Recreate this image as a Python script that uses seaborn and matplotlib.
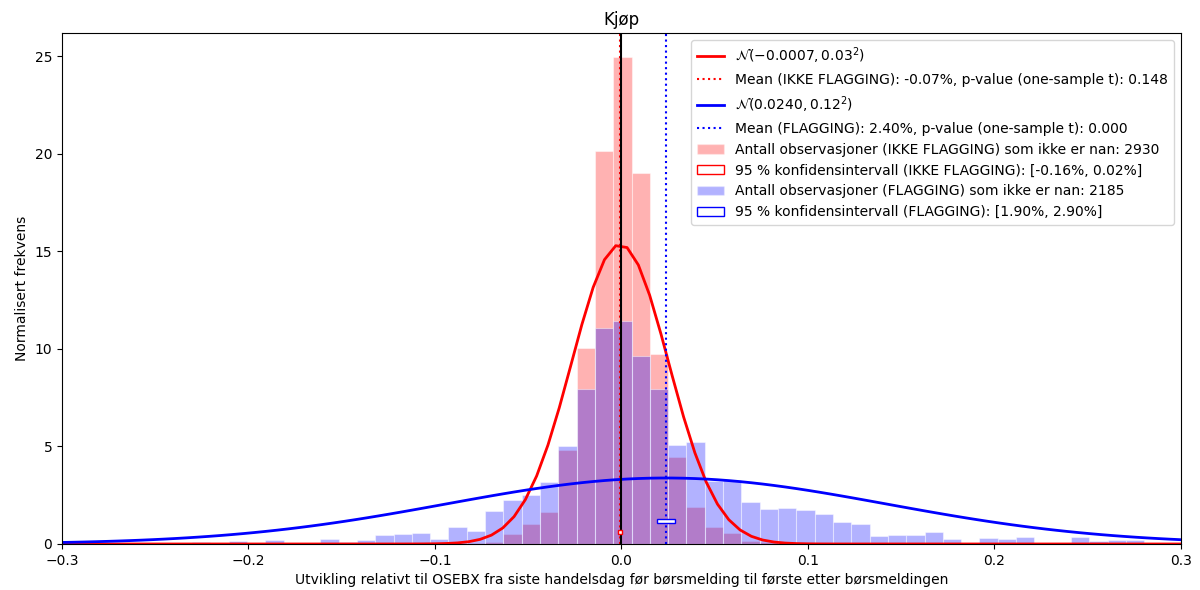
import numpy as np
import pandas as pd
import matplotlib
matplotlib.use("Agg")
import matplotlib.pyplot as plt
import seaborn as sns
from matplotlib.lines import Line2D
from matplotlib.patches import Patch, Rectangle

# ---------------- data ----------------
# common histogram bins (bin k = -31 .. 30)
bin_start = -0.3088
bin_width = 0.00982
n_bins = 62

# normalised frequency per bin, IKKE FLAGGING (red)
red_heights = [
    0, 0, 0, 0, 0, 0, 0, 0, 0, 0,            # k=-31..-22
    0, 0, 0, 0, 0, 0, 0, 0, 0, 0,            # k=-21..-12
    0, 0, 0, 0.03, 0.12, 0.53, 1.00, 1.64, 4.80, 10.05,   # k=-11..-2
    20.14, 24.93, 19.00, 9.74, 4.48, 1.92, 0.89, 0.58, 0.17, 0.10,  # k=-1..8
    0.05, 0.035, 0.035, 0, 0, 0, 0, 0, 0, 0,  # k=9..18
    0, 0, 0, 0, 0, 0, 0, 0, 0, 0,            # k=19..28
    0, 0,                                    # k=29..30
]
# normalised frequency per bin, FLAGGING (blue)
blue_heights = [
    0, 0, 0.05, 0, 0.05, 0, 0.05, 0, 0.09, 0.05,          # k=-31..-22
    0.14, 0.05, 0.19, 0.05, 0.05, 0.24, 0.12, 0.19, 0.45, 0.50,  # k=-21..-12
    0.57, 0.24, 0.88, 0.65, 1.69, 2.27, 2.53, 3.20, 5.00, 7.94,  # k=-11..-2
    11.07, 11.41, 9.65, 7.96, 5.08, 5.22, 3.25, 3.30, 2.17, 1.78,  # k=-1..8
    1.83, 1.75, 1.56, 1.13, 1.03, 0.41, 0.46, 0.46, 0.62, 0.24,  # k=9..18
    0.05, 0.32, 0.24, 0.37, 0.05, 0.05, 0.37, 0.17, 0.22, 0.20,  # k=19..28
    0.05, 0.05,                                           # k=29..30
]

# fitted normal distributions
red_mu, red_sigma = -0.0007, 0.026
blue_mu, blue_sigma = 0.0240, 0.118

# means and 95 % confidence intervals
red_mean, blue_mean = -0.0007, 0.0240
red_ci = (-0.0016, 0.0002)
blue_ci = (0.0190, 0.0290)

red_curve_label = r"$\mathcal{N}(-0.0007, 0.03^2)$"
blue_curve_label = r"$\mathcal{N}(0.0240, 0.12^2)$"
red_mean_label = "Mean (IKKE FLAGGING): -0.07%, p-value (one-sample t): 0.148"
blue_mean_label = "Mean (FLAGGING): 2.40%, p-value (one-sample t): 0.000"
red_hist_label = "Antall observasjoner (IKKE FLAGGING) som ikke er nan: 2930"
red_ci_label = "95 % konfidensintervall (IKKE FLAGGING): [-0.16%, 0.02%]"
blue_hist_label = "Antall observasjoner (FLAGGING) som ikke er nan: 2185"
blue_ci_label = "95 % konfidensintervall (FLAGGING): [1.90%, 2.90%]"

title = "Kjøp"
xlabel = "Utvikling relativt til OSEBX fra siste handelsdag før børsmelding til første etter børsmeldingen"
ylabel = "Normalisert frekvens"

# ---------------- plot ----------------
edges = bin_start + bin_width * np.arange(n_bins + 1)
centers = (edges[:-1] + edges[1:]) / 2
df = pd.DataFrame({"x": centers, "red": red_heights, "blue": blue_heights})

fig, ax = plt.subplots(figsize=(12, 5.9), dpi=100)
fig.subplots_adjust(left=0.0517, right=0.984, top=0.944, bottom=0.078)

edge_rgba = (1, 1, 1, 0.45)
sns.histplot(data=df, x="x", weights="red", bins=edges.tolist(), stat="count",
             color="red", alpha=0.3, edgecolor=edge_rgba, linewidth=0.8, ax=ax)
sns.histplot(data=df, x="x", weights="blue", bins=edges.tolist(), stat="count",
             color="blue", alpha=0.3, edgecolor=edge_rgba, linewidth=0.8, ax=ax)

xs = np.linspace(-0.3, 0.3, 100)
red_pdf = np.exp(-0.5 * ((xs - red_mu) / red_sigma) ** 2) / (red_sigma * np.sqrt(2 * np.pi))
blue_pdf = np.exp(-0.5 * ((xs - blue_mu) / blue_sigma) ** 2) / (blue_sigma * np.sqrt(2 * np.pi))
sns.lineplot(x=xs, y=red_pdf, color="red", linewidth=2, ax=ax)
ax.axvline(red_mean, color="red", linestyle=":", linewidth=1.5)
sns.lineplot(x=xs, y=blue_pdf, color="blue", linewidth=2, ax=ax)
ax.axvline(blue_mean, color="blue", linestyle=":", linewidth=1.5)

ax.add_patch(Rectangle((red_ci[0], 0.50), red_ci[1] - red_ci[0], 0.24,
                       facecolor="white", edgecolor="red", linewidth=1, zorder=3))
ax.add_patch(Rectangle((blue_ci[0], 1.06), blue_ci[1] - blue_ci[0], 0.22,
                       facecolor="white", edgecolor="blue", linewidth=1, zorder=3))

ax.axvline(0, color="black", linewidth=1.5)

ax.set_xlim(-0.3, 0.3)
ax.set_title(title)
ax.set_xlabel(xlabel)
ax.set_ylabel(ylabel)

handles = [
    Line2D([], [], color="red", linewidth=2),
    Line2D([], [], color="red", linestyle=":", linewidth=1.5),
    Line2D([], [], color="blue", linewidth=2),
    Line2D([], [], color="blue", linestyle=":", linewidth=1.5),
    Patch(facecolor="red", alpha=0.3, edgecolor="white"),
    Patch(facecolor="white", edgecolor="red", linewidth=1),
    Patch(facecolor="blue", alpha=0.3, edgecolor="white"),
    Patch(facecolor="white", edgecolor="blue", linewidth=1),
]
labels = [red_curve_label, red_mean_label, blue_curve_label, blue_mean_label,
          red_hist_label, red_ci_label, blue_hist_label, blue_ci_label]
ax.legend(handles, labels, loc="upper right")

fig.savefig("out.png", dpi=100)
